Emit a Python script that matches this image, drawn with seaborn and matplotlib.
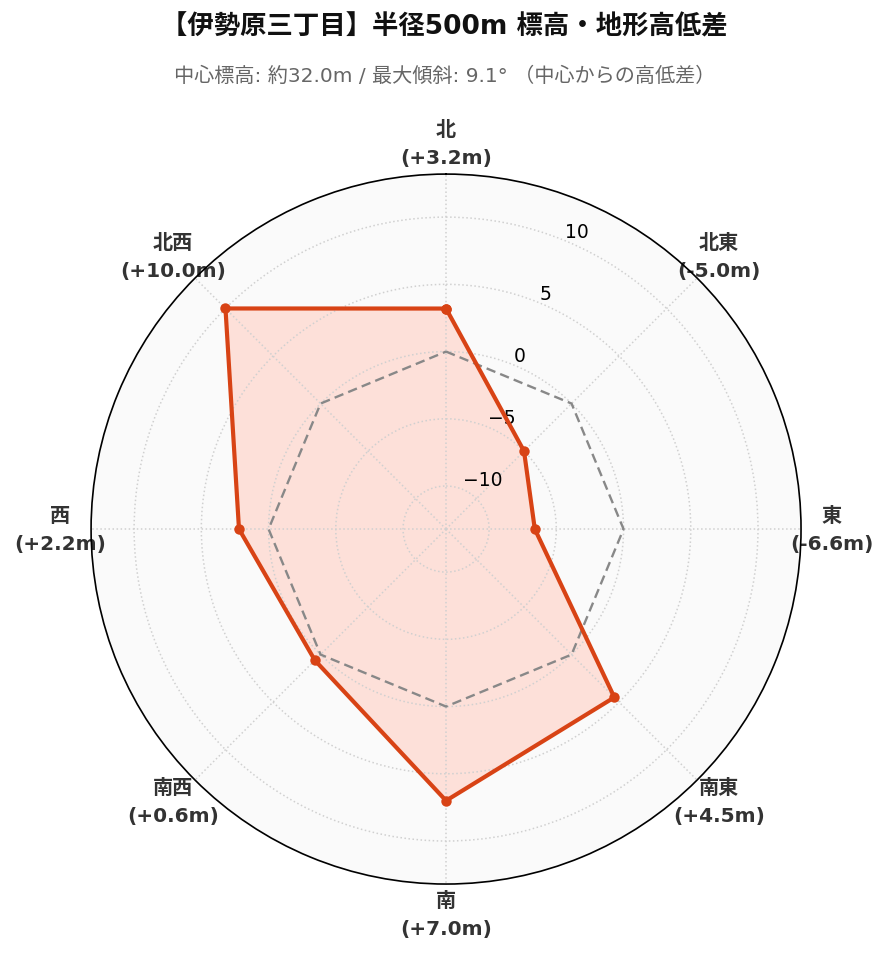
import numpy as np
import matplotlib
matplotlib.use("Agg")
import matplotlib.pyplot as plt
import seaborn as sns

# 8方位の高低差 (m)
directions = ["北", "北東", "東", "南東", "南", "南西", "西", "北西"]
diffs = [3.2, -5.0, -6.6, 4.5, 7.0, 0.6, 2.2, 10.0]
r_ticks = [-10, -5, 0, 5, 10]

title = "【伊勢原三丁目】半径500m 標高・地形高低差"
subtitle = "中心標高: 約32.0m / 最大傾斜: 9.1° （中心からの高低差）"

sns.set_style("white")
plt.rcParams['font.family'] = ['DejaVu Sans', 'Noto Sans CJK JP']
plt.rcParams['axes.unicode_minus'] = True

line_color = "#d84315"

fig = plt.figure(figsize=(8.89, 9.62), dpi=100)
ax = fig.add_axes([0.1024, 0.080, 0.7987, 0.738], projection="polar")
ax.set_facecolor("#fafafa")
ax.set_theta_zero_location("N")
ax.set_theta_direction(-1)

theta = np.deg2rad(np.arange(len(directions)) * 45.0)
theta_c = np.append(theta, 2 * np.pi)
vals_c = np.append(diffs, diffs[0])
zero_c = np.zeros_like(theta_c)

# 高低差の塗り
ax.fill(theta_c, vals_c, color="#fde0d9", lw=0, zorder=1)

# 基準線 (0m)
ax.plot(theta_c, zero_c, color="#888888", lw=1.7, ls=(0, (4, 2.2)), zorder=3)

sns.lineplot(x=theta_c, y=vals_c, sort=False, estimator=None, ax=ax,
             color=line_color, lw=3, marker="o", markersize=7.5,
             markeredgewidth=0, zorder=4)

ax.set_ylim(-13.2, 13.2)
ax.set_yticks(r_ticks)
ax.set_yticklabels([str(t).replace("-", "\u2212") for t in r_ticks],
                   fontsize=13.5, color="black")
ax.set_rlabel_position(22.5)

ax.set_xticks(theta)
ax.set_xticklabels([])
ax.set_axisbelow(False)
ax.grid(True, color="#d0d0d0", ls=":", lw=1.1)
ax.spines["polar"].set_color("black")
ax.spines["polar"].set_linewidth(1.2)

for th, name, d in zip(theta, directions, diffs):
    ax.text(th, 15.5, f"{name}\n({d:+.1f}m)", ha="center", va="center",
            fontsize=14.5, fontweight="bold", color="#333333",
            linespacing=1.6, clip_on=False, zorder=1)

fig.text(0.5, 0.971, title, ha="center", va="center", fontsize=19,
         fontweight="bold", color="#111111")
fig.text(0.5, 0.921, subtitle, ha="center", va="center", fontsize=14.5,
         color="#666666")

fig.savefig("out.png", dpi=100)
